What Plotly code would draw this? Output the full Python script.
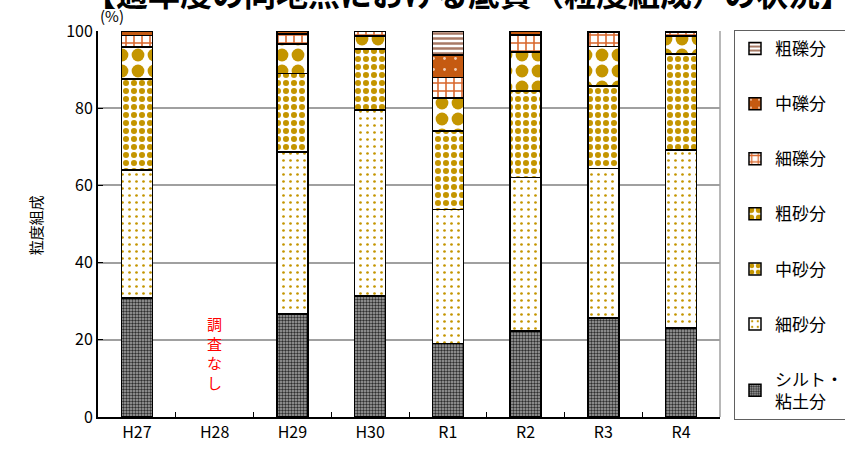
import plotly.graph_objects as go

# Survey years (H28 was not surveyed)
years = ["H27", "H28", "H29", "H30", "R1", "R2", "R3", "R4"]

# Grain-size composition (%) per fraction, bottom to top of each stack
silt_clay     = [30.8, None, 26.7, 31.3, 19.1, 22.3, 25.7, 23.0]
fine_sand     = [33.2, None, 42.0, 48.2, 34.7, 39.8, 38.7, 46.2]
medium_sand   = [23.6, None, 20.3, 15.8, 20.3, 22.4, 21.4, 24.8]
coarse_sand   = [8.3,  None, 7.6,  3.4,  8.5,  10.0, 10.2, 4.7]
fine_gravel   = [3.0,  None, 2.6,  1.3,  5.4,  4.5,  3.7,  1.1]
medium_gravel = [1.0,  None, 0.8,  0.0,  5.8,  1.0,  0.3,  0.2]
coarse_gravel = [0.0,  None, 0.0,  0.0,  6.2,  0.0,  0.0,  0.0]

y_ticks = [0, 20, 40, 60, 80, 100]

FONT = "Noto Sans CJK JP"
GOLD = "#C49500"
ORANGE = "#D8652A"

series = [
    ("シルト・<br>粘土分", silt_clay,
     dict(color="#9A9A9A", pattern=dict(shape=".", fgcolor="#2E2E2E", bgcolor="#A8A8A8",
                                        size=3, solidity=0.5, fgopacity=1))),
    ("細砂分", fine_sand,
     dict(color="white", pattern=dict(shape=".", fgcolor=GOLD, bgcolor="white",
                                      size=7, solidity=0.12, fgopacity=1))),
    ("中砂分", medium_sand,
     dict(color="white", pattern=dict(shape=".", fgcolor=GOLD, bgcolor="white",
                                      size=8, solidity=0.45, fgopacity=1))),
    ("粗砂分", coarse_sand,
     dict(color="white", pattern=dict(shape=".", fgcolor=GOLD, bgcolor="white",
                                      size=16, solidity=0.5, fgopacity=1))),
    ("細礫分", fine_gravel,
     dict(color="white", pattern=dict(shape="+", fgcolor=ORANGE, bgcolor="white",
                                      size=8, solidity=0.35, fgopacity=1))),
    ("中礫分", medium_gravel,
     dict(color="#C55A11", pattern=dict(shape=".", fgcolor="#F4D0B8", bgcolor="#C55A11",
                                        size=11, solidity=0.05, fgopacity=1))),
    ("粗礫分", coarse_gravel,
     dict(color="white", pattern=dict(shape="-", fgcolor="#A87A66", bgcolor="white",
                                      size=5, solidity=0.5, fgopacity=1))),
]

fig = go.Figure()
n = len(series)
for i, (name, vals, marker) in enumerate(series):
    marker = dict(marker)
    marker["line"] = dict(color="black", width=1.5)
    fig.add_trace(go.Bar(
        x=years, y=vals, name=name, marker=marker, width=0.4,
        legendgroup=f"g{i}", legendrank=n - i,
    ))

fig.update_layout(
    barmode="stack",
    width=845, height=449,
    margin=dict(l=98, r=125, t=31, b=32, autoexpand=False),
    paper_bgcolor="white", plot_bgcolor="white",
    font=dict(family=FONT, size=16, color="black"),
    showlegend=True,
    legend=dict(
        x=1.0225, y=1.0026, xanchor="left", yanchor="top",
        traceorder="grouped", tracegroupgap=30,
        bordercolor="#606060", borderwidth=1,
        font=dict(family=FONT, size=17),
        itemwidth=30, maxheight=1,
    ),
    xaxis=dict(
        showline=True, linecolor="black", linewidth=2,
        ticks="inside", ticklen=5, tickcolor="black", tickson="boundaries",
        tickfont=dict(size=16), mirror=False,
    ),
    yaxis=dict(
        range=[0, 100], tickvals=y_ticks,
        showline=True, linecolor="black", linewidth=2,
        ticks="inside", ticklen=5, tickcolor="black",
        showgrid=True, gridcolor="#A0A0A0", gridwidth=1.5,
        tickfont=dict(size=16), zeroline=False,
    ),
)

# right edge of the plotting area
fig.add_shape(type="line", xref="paper", yref="paper", x0=1, x1=1, y0=0, y1=1,
              line=dict(color="#A0A0A0", width=1.5))

fig.add_annotation(
    text="<b>【過年度の同地点における底質（粒度組成）の状況】</b>",
    xref="paper", yref="paper", x=0.595, y=1.101,
    xanchor="center", yanchor="middle", showarrow=False,
    font=dict(family=FONT, size=32, color="black"),
)
fig.add_annotation(
    text="(%)", xref="paper", yref="paper", x=0.0, y=1.04,
    xanchor="left", yanchor="middle", showarrow=False,
    font=dict(family=FONT, size=15),
)
fig.add_annotation(
    text="粒度組成", xref="paper", yref="paper", x=-0.101, y=0.497,
    xanchor="center", yanchor="middle", showarrow=False, textangle=-90,
    font=dict(family=FONT, size=15),
)
fig.add_annotation(
    text="調<br>査<br>な<br>し", x="H28", y=16.6, xref="x", yref="y",
    xanchor="center", yanchor="middle", showarrow=False,
    font=dict(family=FONT, size=15, color="red"),
)

fig.write_html("out.html")
